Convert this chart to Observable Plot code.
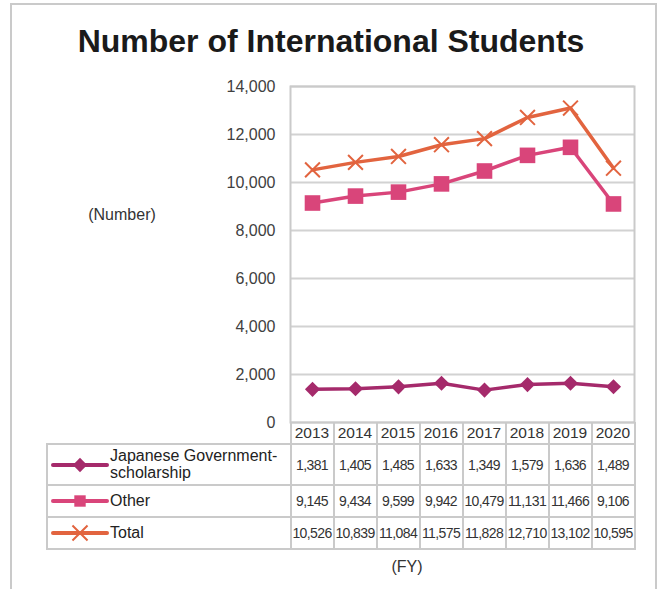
<!DOCTYPE html>
<html><head><meta charset="utf-8">
<script src="https://cdn.jsdelivr.net/npm/d3@7"></script>
<script src="https://cdn.jsdelivr.net/npm/@observablehq/plot@0.6"></script>
<style>
body{margin:0;background:#fff;font-family:"Liberation Sans",Arial,Helvetica,sans-serif;}
#wrap{position:relative;width:660px;height:589px;overflow:hidden;background:#fff;}
.abs{position:absolute;}
.ln{position:absolute;background:#cacaca;}
.cell{position:absolute;display:flex;align-items:center;justify-content:center;color:#333;white-space:nowrap;}
</style></head><body><div id="wrap"></div>
<script>
// ---- data ----
const years = ["2013","2014","2015","2016","2017","2018","2019","2020"];
const govScholarship = [1381,1405,1485,1633,1349,1579,1636,1489];
const other = [9145,9434,9599,9942,10479,11131,11466,9106];
const total = [10526,10839,11084,11575,11828,12710,13102,10595];
const seriesNames = ["Japanese Government-scholarship","Other","Total"];
const seriesLabels = ["Japanese Government-<br>scholarship","Other","Total"];
const seriesColors = ["#A52A6B","#D9457A","#E2643F"];
const seriesSymbols = ["diamond2","square","times"];
const yTicks = [0,2000,4000,6000,8000,10000,12000,14000];
const titleText = "Number of International Students";
const yLabel = "(Number)";
const xLabel = "(FY)";

const seriesValues = [govScholarship, other, total];
const data = [];
seriesNames.forEach((s,i)=>years.forEach((y,j)=>data.push({series:s, year:y, value:seriesValues[i][j]})));

const wrap = document.getElementById("wrap");
function el(tag, cls, style, html){const e=document.createElement(tag); if(cls) e.className=cls; Object.assign(e.style, style); if(html!==undefined) e.innerHTML=html; wrap.appendChild(e); return e;}

// outer frame
el("div","ln",{left:"10px",top:"3px",width:"647px",height:"2px"});
el("div","ln",{left:"10px",top:"3px",width:"2px",height:"600px"});
el("div","ln",{left:"655px",top:"3px",width:"2px",height:"600px"});

// title
el("div","abs",{left:"0px",top:"25px",width:"662px",textAlign:"center",font:"bold 32px 'Liberation Sans',Arial,sans-serif",lineHeight:"32px",color:"#1a1a1a"},titleText);

// chart
const chart = Plot.plot({
  width: 660, height: 430,
  marginLeft: 290, marginRight: 26, marginTop: 86, marginBottom: 8,
  style: {fontFamily:"'Liberation Sans',Arial,sans-serif", fontSize:"16px", color:"#404040", background:"transparent", overflow:"visible"},
  x: {type:"point", domain: years, padding:0.5, axis:null},
  y: {domain:[0,14000], axis:null},
  color: {domain: seriesNames, range: seriesColors},
  marks: [
    Plot.gridY(yTicks, {stroke:"#d2d2d2", strokeOpacity:1, strokeWidth:2}),
    Plot.frame({stroke:"#cacaca", strokeWidth:2}),
    Plot.axisY(yTicks, {tickSize:0, tickPadding:15, tickFormat:d3.format(","), fontSize:16, fill:"#404040", label:null}),
    Plot.line(data, {x:"year", y:"value", z:"series", stroke:"series", strokeWidth:3.5}),
    Plot.dot(data.filter(d=>d.series===seriesNames[0]), {x:"year", y:"value", symbol:"diamond2", r:6.8, fill:"series", stroke:"none"}),
    Plot.dot(data.filter(d=>d.series===seriesNames[1]), {x:"year", y:"value", symbol:"square", r:8.8, fill:"series", stroke:"none"}),
    Plot.dot(data.filter(d=>d.series===seriesNames[2]), {x:"year", y:"value", symbol:"times", r:6.8, fill:"none", stroke:"series", strokeWidth:2})
  ]
});
chart.style.position="absolute"; chart.style.left="0px"; chart.style.top="0px";
wrap.appendChild(chart);

// y label
el("div","abs",{left:"62px",top:"206px",width:"120px",textAlign:"center",fontSize:"16px",lineHeight:"18px",color:"#333"},yLabel);

// data table, columns from the chart's x scale
const xs = chart.scale("x");
const centers = years.map(y=>xs.apply(y));
const step = centers[1]-centers[0];
const colLeft = centers.map(c=>c-step/2);
const tableRight = centers[centers.length-1]+step/2;
const rowEdges = [422,444,485,517,549];
const tableLeft = 47;

// horizontal lines
for (let k=1;k<rowEdges.length;k++) el("div","ln",{left:tableLeft+"px",top:(rowEdges[k]-1)+"px",width:(tableRight-tableLeft+1)+"px",height:"2px"});
// left edge
el("div","ln",{left:(tableLeft-1)+"px",top:(rowEdges[1]-1)+"px",width:"2px",height:(rowEdges[4]-rowEdges[1]+2)+"px"});
// column lines
[...colLeft, tableRight].forEach(x=>el("div","ln",{left:(x-1)+"px",top:rowEdges[0]+"px",width:"2px",height:(rowEdges[4]-rowEdges[0]+1)+"px"}));

// header years
years.forEach((y,j)=>el("div","cell",{left:colLeft[j]+"px",top:rowEdges[0]+"px",width:step+"px",height:(rowEdges[1]-rowEdges[0])+"px",fontSize:"15.5px"},y));

// value cells
const fmt = d3.format(",");
seriesValues.forEach((vals,i)=>{
  const top=rowEdges[i+1], h=rowEdges[i+2]-rowEdges[i+1];
  vals.forEach((v,j)=>el("div","cell",{left:colLeft[j]+"px",top:top+"px",width:step+"px",height:h+"px",fontSize:"14px",letterSpacing:"-0.6px"},fmt(v)));
  // legend glyph
  const cy = top + h/2;
  const svg = d3.create("svg").attr("width",60).attr("height",24).style("position","absolute").style("left","50px").style("top",(cy-12)+"px");
  svg.append("line").attr("x1",3).attr("x2",57).attr("y1",12).attr("y2",12).attr("stroke",seriesColors[i]).attr("stroke-width",4).attr("stroke-linecap","round");
  const symType = [d3.symbolDiamond2, d3.symbolSquare, d3.symbolTimes][i];
  const symSize = [130,130,150][i];
  const p = svg.append("path").attr("d",d3.symbol(symType,symSize)()).attr("transform","translate(30,12)");
  if (i===2) p.attr("fill","none").attr("stroke",seriesColors[i]).attr("stroke-width",2);
  else p.attr("fill",seriesColors[i]);
  wrap.appendChild(svg.node());
  el("div","abs",{left:"110px",top:top+"px",height:h+"px",display:"flex",alignItems:"center",fontSize:"16px",lineHeight:"16.5px",color:"#222"},"<span>"+seriesLabels[i]+"</span>");
});

// x label
el("div","abs",{left:"347px",top:"558px",width:"120px",textAlign:"center",fontSize:"16px",lineHeight:"18px",color:"#333"},xLabel);
</script>
</body></html>
